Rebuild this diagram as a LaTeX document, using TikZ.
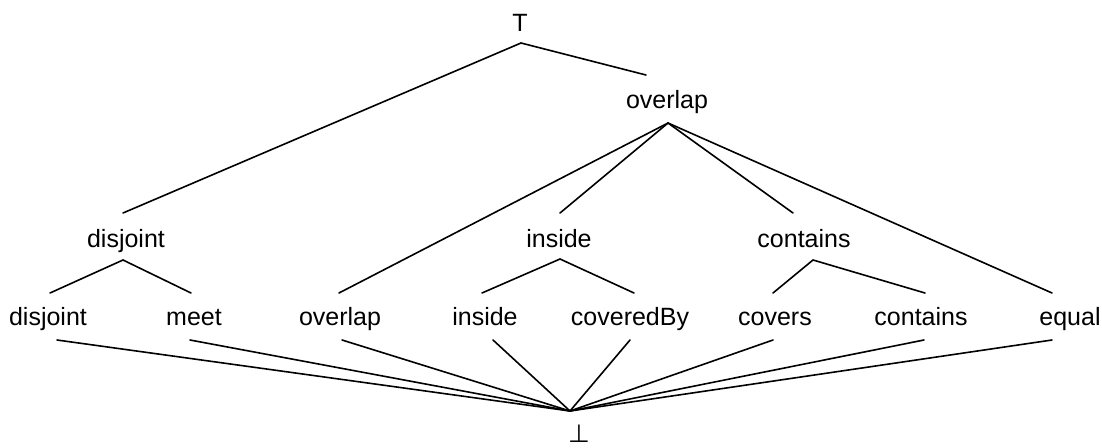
\documentclass[tikz,border=0pt]{standalone}
\usepackage{fontspec}
\setmainfont{Liberation Sans}
\newfontfamily\symfont{DejaVu Sans}
\begin{document}
\begin{tikzpicture}[x=1pt,y=-1pt,
  lbl/.style={anchor=base,inner sep=0pt,font=\fontsize{25}{30}\selectfont},
  edge/.style={line width=1.6pt,line cap=round,black}]
\useasboundingbox (0,0) rectangle (1102,447);
% labels
\node[lbl] (top) at (520,31) {T};
\node[lbl] (ovl) at (667,108) {overlap};
\node[lbl] (disM) at (126,247) {disjoint};
\node[lbl] (insM) at (559,247) {inside};
\node[lbl] (conM) at (804,247) {contains};
\node[lbl] (disL) at (48,325) {disjoint};
\node[lbl] (meeL) at (194,325) {meet};
\node[lbl] (ovlL) at (340,325) {overlap};
\node[lbl] (insL) at (485,325) {inside};
\node[lbl] (covbL) at (630,325) {coveredBy};
\node[lbl] (covL) at (775,325) {covers};
\node[lbl] (conL) at (921,325) {contains};
\node[lbl] (equL) at (1070,325) {equal};
\node[lbl] (bot) at (579,442) {\symfont ⊥};
% attachment points
\coordinate (top-b) at (521,43);
\coordinate (ovl-t) at (646,75);
\coordinate (ovl-b) at (668,123);
\coordinate (disM-t) at (123,213);
\coordinate (disM-b) at (123,260);
\coordinate (insM-t) at (560,213);
\coordinate (insM-b) at (560,259);
\coordinate (conM-t) at (793,213);
\coordinate (conM-b) at (813,260);
\coordinate (disL-t) at (50,293);   \coordinate (disL-b) at (57,340);
\coordinate (meeL-t) at (191,293);  \coordinate (meeL-b) at (190,340);
\coordinate (ovlL-t) at (339,293);  \coordinate (ovlL-b) at (342,340);
\coordinate (insL-t) at (482,293);  \coordinate (insL-b) at (493,340);
\coordinate (covbL-t) at (634,293); \coordinate (covbL-b) at (630,340);
\coordinate (covL-t) at (773,293);  \coordinate (covL-b) at (773,340);
\coordinate (conL-t) at (925,293);  \coordinate (conL-b) at (924,340);
\coordinate (equL-t) at (1052,293); \coordinate (equL-b) at (1052,340);
\coordinate (bot-t) at (570,411);
% connectors
\draw[edge] (disM-t) -- (top-b) -- (ovl-t);
\draw[edge] (ovl-b) -- (ovlL-t);
\draw[edge] (ovl-b) -- (insM-t);
\draw[edge] (ovl-b) -- (conM-t);
\draw[edge] (ovl-b) -- (equL-t);
\draw[edge] (disL-t) -- (disM-b) -- (meeL-t);
\draw[edge] (insL-t) -- (insM-b) -- (covbL-t);
\draw[edge] (covL-t) -- (conM-b) -- (conL-t);
\foreach \n in {disL,meeL,ovlL,insL,covbL,covL,conL,equL}
  \draw[edge] (\n-b) -- (bot-t);
\end{tikzpicture}
\end{document}
